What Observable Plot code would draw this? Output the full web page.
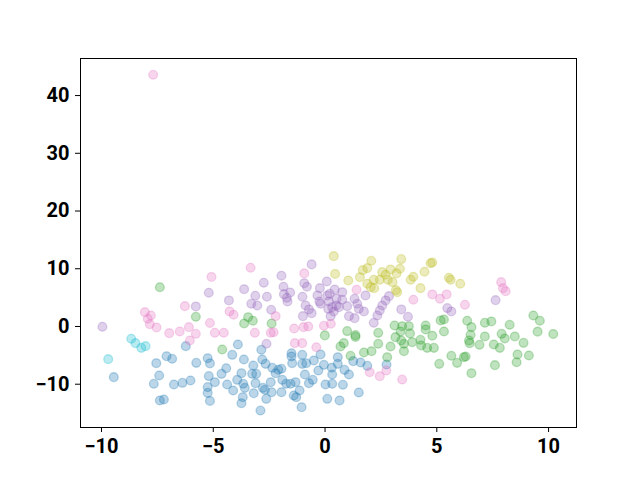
<!DOCTYPE html>
<html>
<head>
<meta charset="utf-8">
<script src="https://cdn.jsdelivr.net/npm/d3@7"></script>
<script src="https://cdn.jsdelivr.net/npm/@observablehq/plot@0.6"></script>
<style>
  html, body { margin: 0; padding: 0; background: #fff; }
</style>
</head>
<body>
<div id="chart"></div>
<script>
const groupNames = ["cluster 0", "cluster 1", "cluster 2", "cluster 3", "cluster 4", "cluster 5"];
const groupColors = ["#1f77b4", "#2ca02c", "#9467bd", "#e377c2", "#bcbd22", "#17becf"];
const xTicks = [-10, -5, 0, 5, 10];
const yTicks = [-10, 0, 10, 20, 30, 40];

const bluePts = [[-9.45,-8.78],[-7.55,-6.36],[-7.09,-5.15],[-6.84,-5.6],[-6.23,-3.41],[-5.76,-6.3],[-7.42,-8.49],[-7.66,-9.93],[-6.76,-10.05],[-6.38,-9.76],[-6.02,-9.36],[-7.39,-12.82],[-7.21,-12.65],[-5.25,-5.5],[-5.15,-6.4],[-5.2,-8.6],[-5.25,-10.5],[-5.25,-11.5],[-5.15,-12.9],[-4.93,-9.65],
[-3.9,-3.12],[-4.15,-4.91],[-3.63,-5.72],[-2.85,-4.04],[-2.81,-5.72],[-3.21,-6.76],[-2.66,-6.47],[-2.36,-7.16],[-1.95,-7.33],[-1.5,-4.63],[-1.5,-5.2],[-1.02,-4.91],[-1.47,-6.36],[-1.02,-6.47],[-0.84,-6.36],[-0.5,-5.89],[-0.2,-4.85],[-0.05,-6.64],[-0.3,-7.63],[-0.55,-9.24],[-0.9,-8.32],[-0.72,-9.82],[0.02,-10.05],[0.32,-8.32],[-4.63,-8.2],[-4.42,-7.23],[-4.38,-10.05],[-4.11,-11.09],[-3.93,-9.24],[-3.74,-8.09],[-3.66,-9.93],[-3.59,-10.63],[-3.68,-12.25],[-3.74,-13.29],[-3.26,-8.2],[-3.08,-8.2],[-3.11,-9.82],[-3.19,-11.56],[-2.78,-10.63],[-2.69,-10.97],[-2.63,-12.53],[-2.89,-14.56],[-2.43,-9.65],[-2.39,-11.39],[-2.21,-8.09],[-2.09,-7.5],[-1.91,-9.24],[-1.95,-11.39],[-1.74,-9.93],[-1.54,-9.93],[-1.32,-9.65],[-1.4,-11.96],[-1.29,-12.25],[-1.14,-11.09],[-1.05,-13.98],[0.1,-12.53],[0.3,-7.15],[0.32,-9.93],
[0.57,-5.32],[0.57,-6.47],[0.87,-7.51],[1.07,-8.32],[1.26,-6.01],[1.59,-6.24],[1.89,-6.82],[2.75,-6.59],[0.8,-10.1],[1.51,-11.44],[0.65,-12.82]];

const greenPts = [[-7.39,6.8],[-5.78,1.68],[-3.44,1.61],[-3.62,0.52],[-3.23,0.99],[-2.39,0.52],[-0.01,-1.55],[-4.6,-3.99],
[0.99,-0.8],[1.36,-1.5],[1.36,-1.8],[0.84,-2.89],[0.69,-3.47],[2.38,-1.1],[3.11,0.17],[3.45,0.05],[3.75,0.05],[4.5,0.17],[4.5,-0.52],[5.17,1.04],[5.32,1.21],[4.8,-1.6],[3.8,-1.2],[3.38,-0.87],[2.38,-3.0],[2.93,-3.47],[2.08,-4.28],[1.74,-4.51],[1.14,-5.08],[2.78,-5.32],[3.15,-1.85],[3.41,-2.43],[3.53,-3.0],[3.53,-4.28],[3.9,-2.72],[4.27,-2.31],[4.3,-3.29],[4.57,-3.7],[4.87,-3.7],[5.32,-0.87],[5.65,-5.08],[5.11,-6.47],
[6.36,0.99],[6.55,-0.12],[7.15,0.64],[7.44,0.87],[8.26,0.29],[9.32,1.9],[9.61,0.99],[9.51,-0.9],[10.21,-1.3],[6.51,-1.44],[7.15,-1.73],[7.9,-1.27],[8.04,-2.08],[8.49,-1.73],[6.44,-2.43],[6.47,-2.89],[6.91,-3.17],[7.55,-3.12],[7.82,-3.7],[8.88,-2.83],[8.61,-4.85],[9.12,-5.03],[8.57,-6.19],[7.6,-6.7],[6.29,-5.2],[6.21,-5.32],[5.91,-6.3],[6.55,-8.09]];

const purplePts = [[-9.96,-0.05],[-5.78,3.47],[-5.2,5.84],[-0.6,10.75],[-1.95,8.79],[-2.74,7.57],[-3.62,6.46],[-3.12,5.32],[-2.6,5.15],[-1.86,6.88],[-1.56,5.89],[-1.84,5.6],[-1.71,4.97],[-1.68,4.33],[-1.01,5.15],[-0.93,7.5],[-0.81,6.88],[0.08,7.8],[-0.23,6.64],[-3.3,3.93],[-3.03,3.64],[-4.3,4.51],[-2.41,2.89],[-0.87,3.64],[-0.72,2.95],[-0.6,2.31],[-0.99,1.79],[-0.34,5.37],[0.1,5.37],[0.21,5.66],[-0.25,4.33],[0.17,4.33],[0.32,3.35],[0.14,3.06],[0.25,1.79],[-0.2,3.93],
[0.43,6.41],[0.77,5.94],[0.51,4.8],[0.77,4.63],[0.51,3.64],[0.62,3.35],[0.39,2.6],[0.99,3.52],[1.32,4.8],[1.44,3.93],[1.51,3.06],[1.74,2.6],[1.81,5.37],[1.07,1.79],[1.32,1.44],[2.86,5.25],[2.71,4.51],[2.56,3.64],[2.45,2.77],[2.34,1.9],[2.18,0.64],[3.41,2.95],[3.71,1.68],[5.47,3.18],[5.65,2.6],[7.63,4.56],[-2.62,-3.0]];

const pinkPts = [[-7.69,43.6],[-8.06,2.48],[-7.79,1.9],[-7.93,1.33],[-7.84,0.4],[-7.54,-0.17],[-6.27,3.52],[-6.97,-1.16],[-6.5,-0.87],[-6.09,-0.12],[-5.78,-1.27],[-5.08,8.58],[-5.15,0.6],[-3.33,10.17],[-0.93,9.19],[-4.27,2.6],[-4.09,2.03],[-2.21,1.79],[-4.93,-1.09],[-4.53,-1.09],[-3.14,-1.09],[-2.43,-1.09],[-2.3,-1.0],[-1.38,-0.35],[-0.96,-0.12],[-0.75,0],[-0.05,0.12],[0.26,0.47],[-1.35,-2.89],[-1.02,-2.89],[-0.39,-3.59],[-6.05,-2.43],[1.41,6.36],[3.95,4.63],[4.8,5.55],[5.14,4.8],[5.44,5.55],[7.88,7.68],[7.96,6.64],[8.08,6.12],[6.26,3.76],[2.0,-7.92],[2.45,-8.61],[2.74,-7.63],[3.45,-9.19]];

const olivePts = [[0.39,12.18],[0.45,9.1],[2.07,11.38],[3.41,11.67],[4.8,11.09],[4.72,10.95],[1.69,9.76],[1.89,10.1],[1.56,8.54],[1.04,7.97],[2.56,9.41],[2.71,8.96],[2.93,9.88],[3.2,9.19],[3.35,10.0],[2.45,8.09],[2.18,8.09],[2.81,8.09],[1.89,7.4],[2.04,6.81],[2.2,6.64],[3.02,7.68],[3.17,6.29],[3.23,5.94],[3.83,8.09],[3.95,8.61],[4.45,9.48],[4.27,6.64],[5.54,8.44],[5.62,8.09],[6.05,7.4]];

const cyanPts = [[-8.67,-2.13],[-8.48,-2.89],[-8.22,-3.7],[-8.03,-3.41],[-9.7,-5.66]];

const groupPoints = [bluePts, greenPts, purplePts, pinkPts, olivePts, cyanPts];
const data = groupPoints.flatMap((pts, i) => pts.map(([x, y]) => ({x, y, g: groupNames[i]})));

const chart = Plot.plot({
  width: 640,
  height: 480,
  marginLeft: 80,
  marginRight: 64,
  marginTop: 58,
  marginBottom: 53,
  style: {fontFamily: "Roboto, 'DejaVu Sans', sans-serif", fontSize: "20px", fontWeight: "bold", color: "black", background: "white"},
  x: {domain: [-10.94, 11.25], ticks: xTicks, tickSize: 5, tickPadding: 6, label: null},
  y: {domain: [-17.5, 46.42], ticks: yTicks, tickSize: 5, tickPadding: 6, label: null},
  color: {type: "ordinal", domain: groupNames, range: groupColors},
  marks: [
    Plot.dot(data, {x: "x", y: "y", r: 4.4, fill: "g", stroke: "g", fillOpacity: 0.3, strokeOpacity: 0.3, strokeWidth: 1.3}),
    Plot.frame({stroke: "black", strokeWidth: 1})
  ]
});
document.getElementById("chart").appendChild(chart);
</script>
</body>
</html>
